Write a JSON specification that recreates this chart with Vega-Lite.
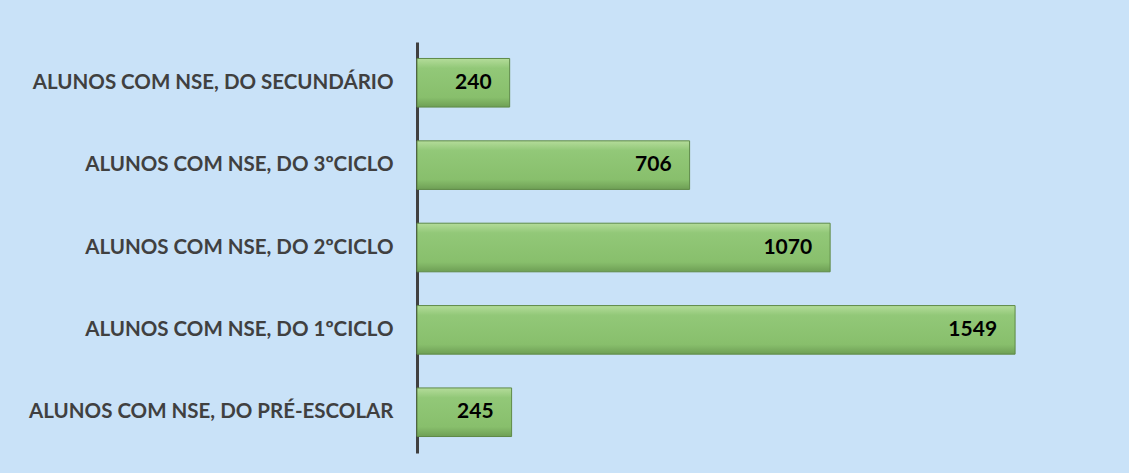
{
  "$schema": "https://vega.github.io/schema/vega-lite/v6.json",
  "autosize": {"type": "none"},
  "padding": {"left": 417, "top": 42, "right": 17, "bottom": 20},
  "width": 695,
  "height": 411,
  "background": "#C9E2F8",
  "config": {"view": {"stroke": null}},
  "data": {
    "values": [
      {"categoria": "ALUNOS COM NSE, DO SECUNDÁRIO", "alunos": 240},
      {"categoria": "ALUNOS COM NSE, DO 3ºCICLO", "alunos": 706},
      {"categoria": "ALUNOS COM NSE, DO 2ºCICLO", "alunos": 1070},
      {"categoria": "ALUNOS COM NSE, DO 1ºCICLO", "alunos": 1549},
      {"categoria": "ALUNOS COM NSE, DO PRÉ-ESCOLAR", "alunos": 245}
    ]
  },
  "encoding": {
    "y": {
      "field": "categoria",
      "type": "nominal",
      "sort": null,
      "scale": {"paddingInner": 0.41, "paddingOuter": 0.2},
      "axis": {
        "title": null,
        "ticks": false,
        "labelPadding": 24,
        "labelFont": "Lato",
        "labelFontWeight": "bold",
        "labelFontSize": 20.5,
        "labelColor": "#404040",
        "domainColor": "#404040",
        "domainWidth": 3,
        "labelLimit": 420
      }
    },
    "x": {
      "field": "alunos",
      "type": "quantitative",
      "scale": {"domain": [0, 1800]},
      "axis": null
    }
  },
  "layer": [
    {
      "mark": {
        "type": "bar",
        "stroke": "#5E8A47",
        "strokeWidth": 1,
        "color": {
          "gradient": "linear",
          "x1": 0, "y1": 0, "x2": 0, "y2": 1,
          "stops": [
            {"offset": 0, "color": "#B4DC9A"},
            {"offset": 0.2, "color": "#92C878"},
            {"offset": 0.8, "color": "#88BF6C"},
            {"offset": 1, "color": "#6E9F55"}
          ]
        }
      }
    },
    {
      "mark": {
        "type": "text",
        "align": "right",
        "dx": -18,
        "font": "Lato",
        "fontWeight": "bold",
        "fontSize": 21,
        "color": "#000000"
      },
      "encoding": {"text": {"field": "alunos", "type": "quantitative"}}
    }
  ]
}
